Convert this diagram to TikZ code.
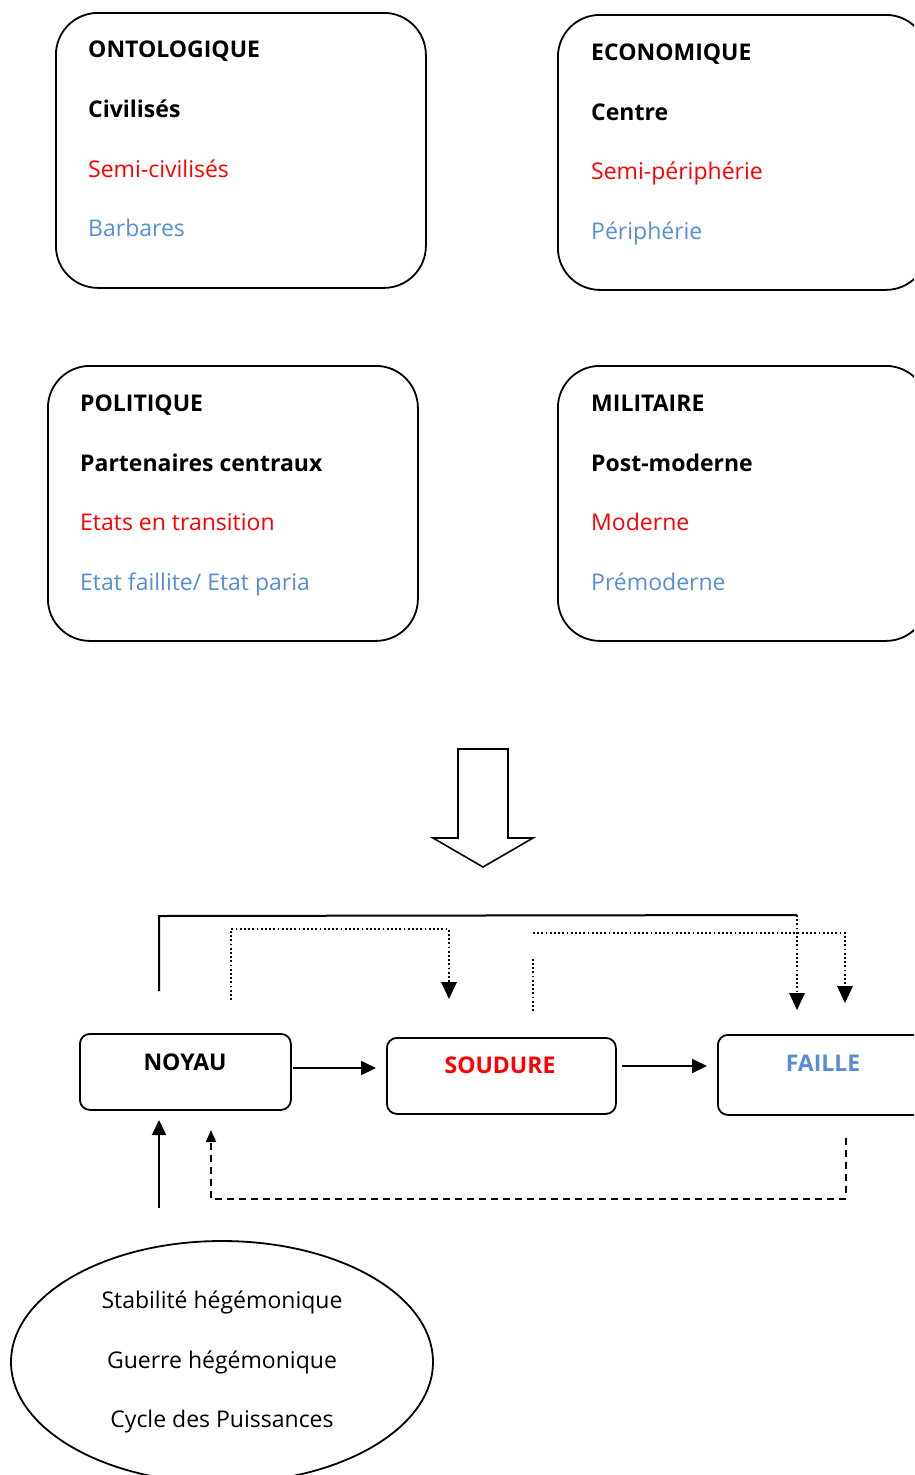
\documentclass[tikz,border=0pt]{standalone}
\usepackage{fontspec}
\setmainfont{Open Sans}
\usetikzlibrary{arrows.meta,shapes.geometric}
\definecolor{cred}{RGB}{255,0,0}
\definecolor{cblue}{RGB}{85,142,213}
\begin{document}
\begin{tikzpicture}[x=1pt,y=-1pt,
  font=\fontsize{23}{27}\selectfont,
  bigbox/.style={draw,line width=1.8pt,rounded corners=42pt,minimum width=370pt,minimum height=275pt,anchor=north west,inner sep=0pt},
  smallbox/.style={draw,line width=1.8pt,rounded corners=10pt,anchor=north west,inner sep=0pt},
  txt/.style={anchor=base west,inner sep=0pt},
  ctxt/.style={anchor=base,inner sep=0pt},
  title/.style={txt,font=\fontsize{23}{27}\selectfont\bfseries},
  lvlone/.style={txt,font=\fontsize{23}{27}\selectfont\bfseries},
  lvltwo/.style={txt,text=cred},
  lvlthree/.style={txt,text=cblue},
  flow/.style={line width=2pt,-{Triangle[length=15pt,width=14pt]}},
  dotflow/.style={line width=1.8pt,dash pattern=on 1.8pt off 2.4pt},
  dashflow/.style={line width=1.8pt,dash pattern=on 7pt off 5pt}]
\clip (0,0) rectangle (914,1475);
% upper boxes
\node[bigbox] (onto) at (55,12) {};
\node[bigbox] (eco) at (557,14) {};
\node[bigbox] (poli) at (47,365) {};
\node[bigbox] (mili) at (557,365) {};
% texts
\node[title] (t1) at (88,57) {ONTOLOGIQUE};
\node[lvlone] (t1a) at (88,117) {Civilisés};
\node[lvltwo] (t1b) at (88,177) {Semi-civilisés};
\node[lvlthree] (t1c) at (88,236) {Barbares};
\node[title] (t2) at (591,60) {ECONOMIQUE};
\node[lvlone] (t2a) at (591,120) {Centre};
\node[lvltwo] (t2b) at (591,179) {Semi-périphérie};
\node[lvlthree] (t2c) at (591,239) {Périphérie};
\node[title] (t3) at (80,411) {POLITIQUE};
\node[lvlone] (t3a) at (80,471) {Partenaires centraux};
\node[lvltwo] (t3b) at (80,530) {Etats en transition};
\node[lvlthree] (t3c) at (80,590) {Etat faillite/ Etat paria};
\node[title] (t4) at (591,411) {MILITAIRE};
\node[lvlone] (t4a) at (591,471) {Post-moderne};
\node[lvltwo] (t4b) at (591,530) {Moderne};
\node[lvlthree] (t4c) at (591,590) {Prémoderne};
% big arrow
\draw[line width=1.6pt] (458,749) -- (508,749) -- (508,838) -- (533,838) -- (483,867) -- (433,838) -- (458,838) -- cycle;
% lower boxes
\node[smallbox,minimum width=211pt,minimum height=76pt] (noyau) at (79,1033) {};
\node[smallbox,minimum width=229pt,minimum height=76pt] (soud) at (386,1037) {};
\node[smallbox,minimum width=229pt,minimum height=80pt] (faille) at (717,1034) {};
\node[ctxt,font=\fontsize{23}{27}\selectfont\bfseries] (ln) at (185,1070) {NOYAU};
\node[ctxt,font=\fontsize{23}{27}\selectfont\bfseries,text=cred] (ls) at (500,1073) {SOUDURE};
\node[ctxt,font=\fontsize{23}{27}\selectfont\bfseries,text=cblue] (lf) at (823,1071) {FAILLE};
% horizontal arrows
\draw[flow] ([xshift=1pt]noyau.east |- 0,1068) -- ([xshift=-10pt]soud.west |- 0,1068);
\draw[flow] ([xshift=5pt]soud.east |- 0,1066) -- ([xshift=-10pt]faille.west |- 0,1066);
% ellipse
\node[draw,ellipse,line width=1.8pt,minimum width=422pt,minimum height=242pt,inner sep=0pt] (cyc) at (222,1362) {};
\node[ctxt] (e1) at (222,1308) {Stabilité hégémonique};
\node[ctxt] (e2) at (222,1368) {Guerre hégémonique};
\node[ctxt] (e3) at (222,1427) {Cycle des Puissances};
% top connectors
\coordinate (a0) at (159,991);
\coordinate (a1) at (159,916);
\coordinate (a2) at (797,915);
\coordinate (a3) at (797,1010);
\draw[line width=2pt] (a0) -- (a1) -- (a2);
\draw[dotflow] (a2) -- ([yshift=14pt]a3);
\fill (a3) -- ++(-8,-17) -- ++(16,0) -- cycle;
\coordinate (b0) at (231,1000);
\coordinate (b1) at (231,929);
\coordinate (b2) at (449,929);
\coordinate (b3) at (449,999);
\draw[dotflow] (b0) -- (b1) -- (b2) -- ([yshift=14pt]b3);
\fill (b3) -- ++(-8,-17) -- ++(16,0) -- cycle;
\coordinate (c0) at (533,1011);
\coordinate (c1) at (533,958);
\coordinate (c2) at (533,933);
\coordinate (c3) at (845,933);
\coordinate (c4) at (845,1003);
\draw[dotflow] (c0) -- (c1);
\draw[dotflow] (c2) -- (c3) -- ([yshift=14pt]c4);
\fill (c4) -- ++(-8,-17) -- ++(16,0) -- cycle;
% bottom connectors
\coordinate (d0) at (159,1208);
\draw[flow] (d0) -- (159,1120);
\coordinate (f0) at (846,1138);
\coordinate (f1) at (846,1198);
\coordinate (f2) at (846,1199);
\coordinate (f3) at (211,1199);
\coordinate (f4) at (211,1130);
\draw[dashflow] (f0) -- (f1);
\draw[dashflow,-{Triangle[length=12pt,width=10pt]}] (f2) -- (f3) -- (f4);
\end{tikzpicture}
\end{document}
